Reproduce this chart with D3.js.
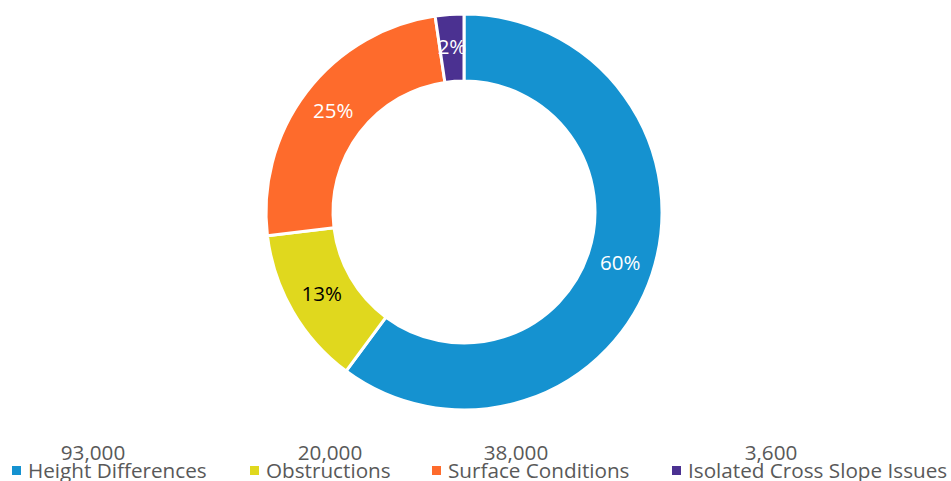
<!DOCTYPE html>
<html><head><meta charset="utf-8">
<script src="https://cdn.jsdelivr.net/npm/d3@7"></script>
<style>body{margin:0;background:#fff}svg{display:block}</style>
</head><body>
<script>
const categories = ["Height Differences","Obstructions","Surface Conditions","Isolated Cross Slope Issues"];
const values = [93000, 20000, 38000, 3600];
const colors = ["#1592d0","#e0d81e","#fe6b2c","#4b3191"];
const labelColors = ["#ffffff","#000000","#ffffff","#ffffff"];

const W = 951, H = 481;
const cx = 464, cy = 212, rOuter = 198, rInner = 131;
const font = "'Open Sans', 'Noto Sans', sans-serif";

const svg = d3.select("body").append("svg").attr("width", W).attr("height", H);
const data = categories.map((c, i) => ({cat: c, value: values[i], color: colors[i], lc: labelColors[i]}));
const total = d3.sum(values);
const pie = d3.pie().value(d => d.value).sort(null);
const arc = d3.arc().innerRadius(rInner).outerRadius(rOuter);
const g = svg.append("g").attr("transform", `translate(${cx},${cy})`);
const arcs = pie(data);
g.selectAll("path").data(arcs).join("path")
  .attr("d", arc).attr("fill", d => d.data.color)
  .attr("stroke", "#fff").attr("stroke-width", 3).attr("stroke-linejoin", "round");
g.selectAll("text").data(arcs).join("text")
  .attr("transform", d => `translate(${arc.centroid(d)})`)
  .attr("text-anchor", "middle").attr("dy", "0.3em")
  .attr("font-family", font).attr("font-size", 20.5)
  .attr("fill", d => d.data.lc)
  .text(d => Math.round(d.data.value / total * 100) + "%");

// legend
const itemX = [12, 250, 432, 672];
const valueX = [93, 330, 516, 771];
const fmt = d3.format(",");
const lg = svg.append("g");
data.forEach((d, i) => {
  lg.append("rect").attr("x", itemX[i]).attr("y", 466).attr("width", 9).attr("height", 9).attr("fill", d.color);
  lg.append("text").attr("x", itemX[i] + 16).attr("y", 478)
    .attr("font-family", font).attr("font-size", 20.7).attr("fill", "#595959").text(d.cat);
  lg.append("text").attr("x", valueX[i]).attr("y", 460).attr("text-anchor", "middle")
    .attr("font-family", font).attr("font-size", 20.7).attr("fill", "#595959").text(fmt(d.value));
});
</script>
</body></html>
